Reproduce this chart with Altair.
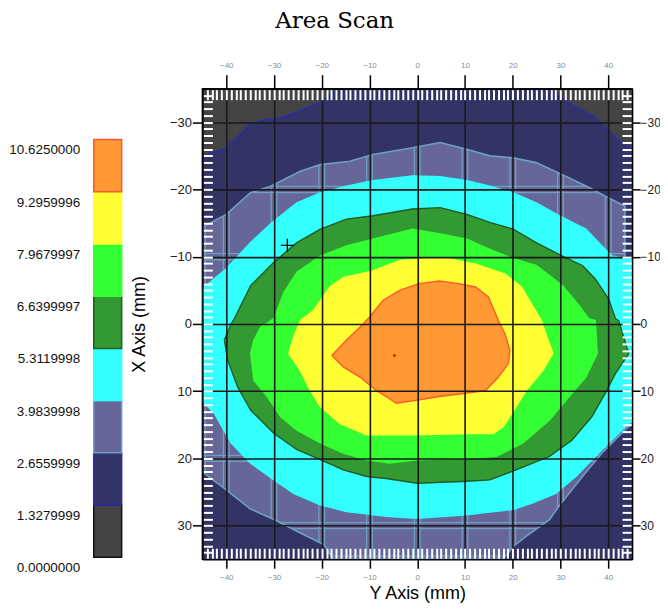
import altair as alt
import pandas as pd

# ---------------- data ----------------
LEVEL_BOUNDS = [0.0, 1.3279999, 2.6559999, 3.9839998, 5.3119998,
                6.6399997, 7.9679997, 9.2959996, 10.625]
LEVEL_NAMES = ["L0", "L1", "L2", "L3", "L4", "L5", "L6", "L7"]
FILLS = ["#444444", "#333366", "#666699", "#33ffff",
         "#339933", "#33ff33", "#ffff33", "#ff9933"]
STROKES = ["#111111", "#2b2bb0", "#6e9fc2", "#33ffff",
           "#1f5c1f", "#33ff33", "#ffff33", "#ff5533"]

# contour regions (Y axis mm, X axis mm)
# top edge of the 1.328 level (dark grey corners above it)
NAVY_TOP = [(-45, -25.0), (-40, -26.2), (-35, -29.7), (-32, -30.4), (-29, -30.6),
            (-25, -31.6), (-20, -33.1), (-17, -35), (27, -35), (30, -33.8),
            (33, -32.4), (37, -30.9), (39.5, -29.2), (42, -27.5), (45, -26)]
SLATE = [(-45, -14.4), (-40, -16.3), (-35, -19.5), (-30.7, -20.5), (-24.5, -22.7),
         (-20.3, -23.7), (-14.1, -24.2), (-9.3, -25.2), (-1, -26.2), (4.8, -27.0),
         (10.4, -26.0), (15.2, -25.0), (20.1, -24.7), (24.9, -24.0), (30.4, -22.2),
         (36.0, -20.3), (39.4, -19.0), (42.2, -18.0), (43.5, -17.5), (43.5, -10),
         (45, -9.5), (45, 15.0), (44.2, 15.3), (38.7, 19.2), (34.6, 22.7),
         (29.7, 27.1), (27.7, 29.1), (22.8, 31.6), (20.1, 33.1), (18, 35),
         (-17.6, 35), (-19.6, 32.8), (-24.5, 31.1), (-30, 29.1), (-35, 27.5),
         (-40, 24.7), (-45, 22)]
CYAN = [(-45, -5.3), (-44.2, -5.7), (-40, -8.2), (-34.9, -12.1), (-30.4, -15.1),
        (-25.2, -18.0), (-20.3, -19.5), (-14.8, -20.5), (-9.3, -21.3), (-1, -22.0),
        (4.8, -21.9), (10.4, -21.3), (15.2, -20.5), (20.1, -19.5), (24.9, -18.0),
        (29.7, -16.1), (35.3, -14.1), (38.7, -11.6), (40.8, -10.1), (45, -9.6),
        (45, 14.6), (44.3, 14.8), (38.7, 18.7), (33.2, 22.7), (29.0, 25.2),
        (24.2, 26.6), (20.1, 27.6), (13.8, 28.1), (10.4, 28.4), (0, 28.9),
        (-6.5, 28.6), (-14.8, 27.9), (-20.3, 26.9), (-25.9, 25.2), (-30, 23.2),
        (-34.9, 20.7), (-39, 17.7), (-42.5, 13.3), (-45, 11.5)]
DARKGREEN = [(-40.4, 2.4), (-39, 0), (-38.3, -0.8), (-34.9, -5.7), (-30, -9.2),
             (-25.2, -12.1), (-20.3, -14.1), (-14.8, -15.6), (-9.3, -16.1),
             (-1, -17.1), (4.8, -17.3), (10.4, -16.3), (15.2, -15.1), (20.1, -14.1),
             (24.9, -12.1), (30.4, -10.1), (34.6, -8.7), (37.3, -6.7), (40.1, -3.7),
             (41.5, -0.8), (42.2, -0.5), (44.3, 4.4), (41.5, 7.4), (39.4, 10.3),
             (36.6, 13.8), (32.4, 17.3), (27.7, 19.7), (20.7, 21.7), (15.2, 23.2),
             (10.4, 23.4), (0, 23.7), (-6.5, 23.0), (-10.6, 22.7), (-15.5, 21.7),
             (-20.3, 20.2), (-25.2, 18.7), (-30, 16.3), (-34.9, 12.8), (-37.6, 9.4),
             (-39.7, 5.4)]
GREEN = [(-34.9, 4.4), (-34.2, 2.4), (-32.8, 0.5), (-30, -0.8), (-27.9, -4.7),
         (-25.2, -7.7), (-20.3, -10.1), (-14.8, -11.6), (-9.3, -12.6), (-1, -14.1),
         (4.8, -13.4), (10.4, -12.6), (15.2, -11.1), (20.1, -9.7), (24.9, -8.7),
         (30.4, -5.7), (33.9, -2.7), (35.9, -0.8), (37.3, -0.5), (37.7, 4.4),
         (35.3, 7.9), (31.8, 10.8), (27.7, 14.3), (22.1, 17.7), (16.6, 19.7),
         (10.4, 20.0), (0, 20.2), (-5.8, 20.7), (-10.6, 20.2), (-15.5, 19.2),
         (-20.3, 17.7), (-25.2, 15.8), (-28.6, 13.8), (-31.4, 10.8), (-34.2, 8.4)]
YELLOW = [(-26.9, 4.4), (-25.9, 2.0), (-24.5, -0.5), (-21.7, -2.0), (-18.3, -5.5),
          (-15.5, -6.9), (-9.3, -7.9), (-3.7, -9.4), (1.8, -9.7), (6.6, -9.7),
          (12.2, -8.9), (18.4, -7.4), (21.8, -5.5), (23.9, -3.0), (26, -0.5),
          (26.7, 1.0), (28.4, 4.4), (26.3, 6.9), (22.8, 9.9), (20.7, 12.3),
          (18, 15.3), (15.9, 16.3), (10.4, 16.3), (0, 16.5), (-10.6, 16.5),
          (-16.2, 14.8), (-20.3, 12.3), (-22.4, 9.9), (-24.5, 6.9)]
ORANGE = [(-17.9, 4.7), (-14.8, 2.4), (-12, 0.5), (-10, -1.0), (-7.2, -3.5),
          (-3.7, -5.0), (0.4, -6.0), (4.6, -6.4), (8.7, -6.0), (12.2, -5.5),
          (14.9, -4.0), (17, -0.5), (18.4, 1.5), (19.4, 3.9), (19.1, 5.9),
          (17, 7.9), (14.3, 9.9), (10.1, 10.3), (4.6, 10.8), (0.4, 11.3),
          (-4.4, 11.8), (-6.5, 10.8), (-8.6, 9.9), (-12, 7.9), (-15.5, 6.4)]

PEAK = (-4.8, 4.7)        # red dot
CURSOR = (-27.2, -11.7)   # cross-hair marker

X_RANGE = [-45, 45]
Y_RANGE = [-35, 35]
X_TICKS = [-40, -30, -20, -10, 0, 10, 20, 30, 40]
Y_TICKS = [-30, -20, -10, 0, 10, 20, 30]
X_MINOR = list(range(-44, 45))
Y_MINOR = list(range(-34, 35))

W, H = 431, 472
FONT = "Liberation Sans"

xs = alt.Scale(domain=X_RANGE, nice=False, zero=False)
ys = alt.Scale(domain=Y_RANGE, reverse=True, nice=False, zero=False)


def lab_axis(orient, values, **kw):
    base = dict(orient=orient, values=values, domain=True, domainColor="#000",
                domainWidth=1.5, tickColor="#000", tickWidth=1.5, grid=False,
                labelFont=FONT, zindex=1, title=None)
    base.update(kw)
    return alt.Axis(**base)


def minor_axis(orient, values, size):
    return alt.Axis(orient=orient, values=values, offset=-(size + 1), tickSize=size,
                    tickColor="#ffffff", tickWidth=2, labels=False, domain=False,
                    grid=False, title=None, zindex=1)


x_axes = [
    lab_axis("bottom", X_TICKS, tickSize=9, labelColor="#8a8a8a", labelFontSize=8,
             labelPadding=5, title="Y Axis (mm)", titleFont=FONT, titleFontSize=18,
             titleFontWeight="normal", titleColor="#000", titlePadding=3,
             grid=True, gridColor="#1a1a1a", gridWidth=1.6, gridOpacity=1),
    lab_axis("top", X_TICKS, tickSize=14, labelColor="#8a8a8a", labelFontSize=8,
             labelPadding=5),
    minor_axis("bottom", X_MINOR, 10),
    minor_axis("top", X_MINOR, 10),
]
y_axes = [
    lab_axis("left", Y_TICKS, tickSize=10, labelColor="#222", labelFontSize=13,
             labelPadding=1, title="X Axis (mm)", titleFont=FONT, titleFontSize=18,
             titleFontWeight="normal", titleColor="#000", titlePadding=21,
             grid=True, gridColor="#1a1a1a", gridWidth=1.6, gridOpacity=1),
    lab_axis("right", Y_TICKS, tickSize=8, labelColor="#222", labelFontSize=12,
             labelPadding=0),
    minor_axis("left", Y_MINOR, 9),
    minor_axis("right", Y_MINOR, 9),
]
axis_queue = list(zip(x_axes, y_axes))


def enc(axes_pair=None, ordered=True):
    xa, ya = axes_pair if axes_pair else (None, None)
    e = dict(x=alt.X("h:Q", scale=xs, axis=xa), y=alt.Y("v:Q", scale=ys, axis=ya))
    if ordered:
        e["order"] = "i:Q"
    return e


def path_df(pts, close=True):
    pts = list(pts) + ([pts[0]] if close else [])
    return pd.DataFrame({"h": [p[0] for p in pts], "v": [p[1] for p in pts],
                         "i": list(range(len(pts)))})


def poly(pts, fill, stroke="transparent", sw=0, close=True, axes_pair=None):
    return alt.Chart(path_df(pts, close)).mark_line(
        fill=fill, stroke=stroke, strokeWidth=sw, clip=True).encode(**enc(axes_pair))


layers = []
# 2.656 .. 3.984 band (slate) with its tiled look
layers.append(poly(SLATE, FILLS[2], axes_pair=axis_queue[0]))
inset_x = 0.6
inset_y = 0.45
vx = sorted([g - inset_x for g in X_TICKS + [X_RANGE[1]]] +
            [g + inset_x for g in [X_RANGE[0]] + X_TICKS])
vy = sorted([g - inset_y for g in Y_TICKS + [Y_RANGE[1]]] +
            [g + inset_y for g in [Y_RANGE[0]] + Y_TICKS])
layers.append(alt.Chart(pd.DataFrame({"h": vx})).mark_rule(
    color=STROKES[2], strokeWidth=1.3, clip=True).encode(
    x=alt.X("h:Q", scale=xs, axis=None)))
layers.append(alt.Chart(pd.DataFrame({"v": vy})).mark_rule(
    color=STROKES[2], strokeWidth=1.3, clip=True).encode(
    y=alt.Y("v:Q", scale=ys, axis=None)))

# everything outside the slate band: navy (frame with the slate region as a hole)
frame = [(X_RANGE[0], Y_RANGE[0]), (X_RANGE[1], Y_RANGE[0]),
         (X_RANGE[1], Y_RANGE[1]), (X_RANGE[0], Y_RANGE[1])]
outside = frame + [frame[0]] + [SLATE[0]] + SLATE[::-1] + [frame[0]]
layers.append(poly(outside, FILLS[1], close=False, axes_pair=axis_queue[1]))

# dark grey corners (0 .. 1.328)
split = next(i for i, p in enumerate(NAVY_TOP) if p[1] == Y_RANGE[0])
corner_l = [(X_RANGE[0], Y_RANGE[0])] + NAVY_TOP[:split + 1][::-1]
corner_r = NAVY_TOP[split + 1:] + [(X_RANGE[1], Y_RANGE[0])]
layers.append(poly(corner_l, FILLS[0], axes_pair=axis_queue[2]))
layers.append(poly(corner_r, FILLS[0]))
layers.append(alt.Chart(path_df(NAVY_TOP, close=False)).mark_line(
    stroke=STROKES[1], strokeWidth=1.4, clip=True).encode(**enc()))
layers.append(alt.Chart(path_df(SLATE)).mark_line(
    stroke=STROKES[2], strokeWidth=1.6, clip=True).encode(**enc()))

# inner levels
for k, pts in zip([3, 4, 5, 6, 7], [CYAN, DARKGREEN, GREEN, YELLOW, ORANGE]):
    ap = axis_queue[3] if k == 3 else None
    layers.append(poly(pts, FILLS[k], stroke=STROKES[k], sw=1.4, axes_pair=ap))

dot = alt.Chart(pd.DataFrame({"h": [PEAK[0]], "v": [PEAK[1]]})).mark_point(
    shape="square", size=6, filled=True, color="#ff0000", opacity=1
).encode(x=alt.X("h:Q", scale=xs, axis=None), y=alt.Y("v:Q", scale=ys, axis=None))

cross = alt.Chart(pd.DataFrame({"h": [CURSOR[0]], "v": [CURSOR[1]]})).mark_point(
    shape="M-1,0L1,0M0,-1L0,1", size=170, filled=False, stroke="#000",
    strokeWidth=1.3, opacity=1
).encode(x=alt.X("h:Q", scale=xs, axis=None), y=alt.Y("v:Q", scale=ys, axis=None))

main = alt.layer(*layers, dot, cross).resolve_axis(
    x="independent", y="independent"
).properties(width=W, height=H,
             view=alt.ViewBackground(fill="#444444", stroke="#000", strokeWidth=1.5))

# ---------------- legend (colour bar) ----------------
leg_df = pd.DataFrame({"lo": LEVEL_BOUNDS[:-1], "hi": LEVEL_BOUNDS[1:],
                       "level": LEVEL_NAMES})
legend = alt.Chart(leg_df).mark_rect(strokeWidth=1.5).encode(
    y=alt.Y("lo:Q", scale=alt.Scale(domain=[-0.0507, 11.918], nice=False, zero=False),
            axis=alt.Axis(values=LEVEL_BOUNDS, format=".7f", ticks=False, domain=False,
                          grid=False, labelPadding=14, labelFontSize=13.5,
                          labelFont=FONT, labelColor="#111", labelOffset=10.5,
                          title=None)),
    y2="hi:Q",
    fill=alt.Fill("level:N", scale=alt.Scale(domain=LEVEL_NAMES, range=FILLS), legend=None),
    stroke=alt.Stroke("level:N", scale=alt.Scale(domain=LEVEL_NAMES, range=STROKES), legend=None),
).properties(width=28, height=H,
             view=alt.ViewBackground(fill="transparent", stroke="transparent"))

chart = alt.hconcat(legend, main, spacing=6).properties(
    padding={"left": 0, "top": 1, "right": -2, "bottom": 0},
    title=alt.Title("Area Scan", font="DejaVu Serif", fontSize=23, fontWeight="normal",
                    color="#000", anchor="middle", offset=28),
)

chart.save("out.html", embed_options={"renderer": "svg", "actions": False})
